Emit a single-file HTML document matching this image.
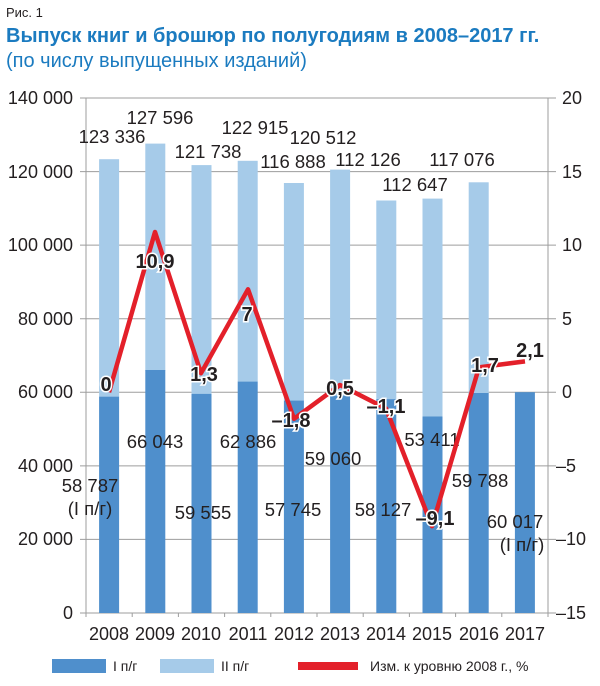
<!DOCTYPE html>
<html><head><meta charset="utf-8"><style>
body{margin:0;background:#fff;width:600px;height:681px;overflow:hidden;font-family:"Liberation Sans",sans-serif}
svg text{font-family:"Liberation Sans","DejaVu Sans",sans-serif}
.n{font-size:18.5px;fill:#231f20}
.b{font-size:20px;font-weight:bold;fill:#231f20;stroke:#fff;stroke-width:3px;paint-order:stroke}
.ax{font-size:18px;fill:#231f20}
</style></head><body>
<svg width="600" height="681" xmlns="http://www.w3.org/2000/svg">
<text x="6" y="17" font-size="13" fill="#231f20">Рис. 1</text>
<text x="6" y="42" font-size="20" font-weight="bold" fill="#1b7bc0">Выпуск книг и брошюр по полугодиям в 2008–2017 гг.</text>
<text x="6" y="67" font-size="20" fill="#1b7bc0">(по числу выпущенных изданий)</text>
<g stroke="#9d9d9d" stroke-width="1">
<line x1="80" y1="98" x2="556" y2="98"/><line x1="80" y1="171.6" x2="556" y2="171.6"/>
<line x1="80" y1="245.1" x2="556" y2="245.1"/><line x1="80" y1="318.7" x2="556" y2="318.7"/>
<line x1="80" y1="392.3" x2="556" y2="392.3"/><line x1="80" y1="465.9" x2="556" y2="465.9"/>
<line x1="80" y1="539.4" x2="556" y2="539.4"/><line x1="80" y1="613" x2="556" y2="613"/>
<line x1="86" y1="98" x2="86" y2="617"/><line x1="548" y1="98" x2="548" y2="617"/>
<line x1="132.2" y1="613" x2="132.2" y2="617"/><line x1="178.4" y1="613" x2="178.4" y2="617"/>
<line x1="224.6" y1="613" x2="224.6" y2="617"/><line x1="270.8" y1="613" x2="270.8" y2="617"/>
<line x1="317" y1="613" x2="317" y2="617"/><line x1="363.2" y1="613" x2="363.2" y2="617"/>
<line x1="409.4" y1="613" x2="409.4" y2="617"/><line x1="455.6" y1="613" x2="455.6" y2="617"/>
<line x1="501.8" y1="613" x2="501.8" y2="617"/>
</g>
<g fill="#a6cbe9">
<rect x="99.1" y="159.2" width="20" height="238"/>
<rect x="145.3" y="143.6" width="20" height="227"/>
<rect x="191.5" y="165.1" width="20" height="229"/>
<rect x="237.7" y="160.8" width="20" height="221"/>
<rect x="283.9" y="183" width="20" height="218"/>
<rect x="330.1" y="169.6" width="20" height="227"/>
<rect x="376.3" y="200.5" width="20" height="199"/>
<rect x="422.5" y="198.6" width="20" height="218"/>
<rect x="468.7" y="182.3" width="20" height="211"/>
</g>
<g fill="#4f8fcc">
<rect x="99.1" y="396.7" width="20" height="216.3"/>
<rect x="145.3" y="370" width="20" height="243"/>
<rect x="191.5" y="393.9" width="20" height="219.1"/>
<rect x="237.7" y="381.6" width="20" height="231.4"/>
<rect x="283.9" y="400.6" width="20" height="212.4"/>
<rect x="330.1" y="395.7" width="20" height="217.3"/>
<rect x="376.3" y="399.2" width="20" height="213.8"/>
<rect x="422.5" y="416.5" width="20" height="196.5"/>
<rect x="468.7" y="393" width="20" height="220"/>
<rect x="514.9" y="392.2" width="20" height="220.8"/>
</g>
<g class="ax" text-anchor="end">
<text x="73" y="104">140 000</text><text x="73" y="178">120 000</text><text x="73" y="251">100 000</text>
<text x="73" y="325">80 000</text><text x="73" y="398">60 000</text><text x="73" y="472">40 000</text>
<text x="73" y="545">20 000</text><text x="73" y="619">0</text>
</g>
<g class="ax">
<text x="562" y="104">20</text><text x="562" y="178">15</text><text x="562" y="251">10</text>
<text x="562" y="325">5</text><text x="562" y="398">0</text><text x="556" y="472">–5</text>
<text x="556" y="545">–10</text><text x="556" y="619">–15</text>
</g>
<g class="ax" text-anchor="middle">
<text x="109" y="640">2008</text><text x="155" y="640">2009</text><text x="201" y="640">2010</text>
<text x="248" y="640">2011</text><text x="294" y="640">2012</text><text x="340" y="640">2013</text>
<text x="386" y="640">2014</text><text x="432" y="640">2015</text><text x="479" y="640">2016</text><text x="525" y="640">2017</text>
</g>
<g class="n" text-anchor="middle">
<text x="112" y="143">123 336</text><text x="160" y="124">127 596</text><text x="208" y="158">121 738</text>
<text x="255" y="134">122 915</text><text x="293" y="168">116 888</text><text x="323" y="144">120 512</text>
<text x="368" y="166">112 126</text><text x="415" y="191">112 647</text><text x="462" y="166">117 076</text>
<text x="155" y="448">66 043</text><text x="248" y="448">62 886</text><text x="333" y="465">59 060</text>
<text x="432" y="446">53 411</text><text x="480" y="487">59 788</text>
<text x="90" y="492">58 787</text><text x="90" y="515">(I п/г)</text>
<text x="203" y="519">59 555</text><text x="293" y="516">57 745</text><text x="383" y="516">58 127</text>
<text x="515" y="528">60 017</text><text x="522" y="551">(I п/г)</text>
</g>
<polyline fill="none" stroke="#e3202a" stroke-width="4.5" stroke-linejoin="round" points="109,392.3 155,232 201,373.2 248,289.3 294,418.8 340,385 386,408.5 432,526.2 479,367.3 525,361.4"/>
<g class="b" text-anchor="middle">
<text x="106" y="391">0</text><text x="155" y="268">10,9</text><text x="204" y="381">1,3</text>
<text x="247" y="321">7</text><text x="291" y="427">–1,8</text><text x="340" y="395">0,5</text>
<text x="386" y="413">–1,1</text><text x="435" y="525">–9,1</text><text x="485" y="372">1,7</text><text x="530" y="357">2,1</text>
</g>
<rect x="52" y="659" width="54" height="14" fill="#4f8fcc"/>
<text x="113" y="671" font-size="14" fill="#231f20">I п/г</text>
<rect x="160" y="659" width="54" height="14" fill="#a6cbe9"/>
<text x="221" y="671" font-size="14" fill="#231f20">II п/г</text>
<rect x="298" y="662" width="60" height="8" fill="#e3202a"/>
<text x="370" y="671" font-size="14" fill="#231f20">Изм. к уровню 2008 г., %</text>
</svg>
</body></html>
